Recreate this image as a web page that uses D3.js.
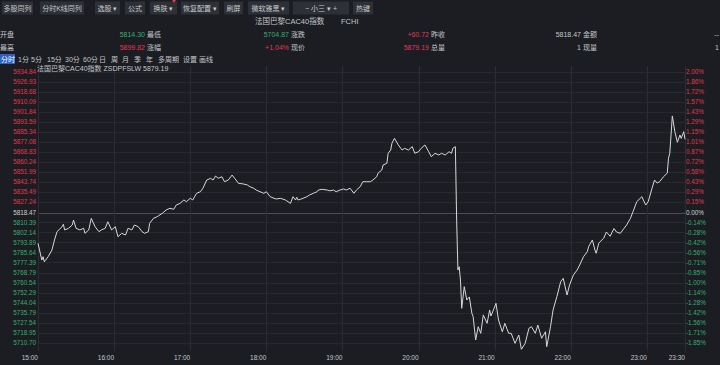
<!DOCTYPE html>
<html>
<head>
<meta charset="utf-8">
<script src="https://cdn.jsdelivr.net/npm/d3@7"></script>
<style>
body { margin: 0; background: #1b1d22; overflow: hidden; }
svg { display: block; font-family: "Liberation Sans", "Noto Sans CJK SC", sans-serif; }
</style>
</head>
<body>
<div id="chart"></div>
<script>
// ---- data ----
var toolbarLabels = ["多股同列", "分时K线同列", "选股 ▾", "公式", "换肤 ▾", "恢复配置 ▾", "刷屏", "微软雅黑 ▾", "−   小三 ▾   +", "热键"];
var indexName = "法国巴黎CAC40指数";
var indexCode = "FCHI";
var quoteRow1 = [["开盘", "5814.30"], ["最低", "5704.87"], ["涨跌", "+60.72"], ["昨收", "5818.47"], ["金额", "--"]];
var quoteRow2 = [["最高", "5899.82"], ["涨幅", "+1.04%"], ["现价", "5879.19"], ["总量", "1"], ["现量", "1"]];
var periodTabs = ["分时", "1分", "5分", "15分", "30分", "60分", "日", "周", "月", "季", "年", "多周期", "设置", "画线"];
var chartTitle = "法国巴黎CAC40指数 ZSDPFSLW 5879.19";
var prevClose = 5818.47;

var priceTicks = [5934.84, 5926.93, 5918.68, 5910.09, 5901.84, 5893.59, 5885.34, 5877.08, 5868.83, 5860.24,
  5851.99, 5843.74, 5835.49, 5827.24, 5818.47, 5810.39, 5802.14, 5793.89, 5785.64, 5777.39, 5768.79,
  5760.54, 5752.29, 5744.04, 5735.79, 5727.54, 5718.95, 5710.70];
var pctTicks = ["2.00%", "1.86%", "1.72%", "1.57%", "1.43%", "1.29%", "1.15%", "1.01%", "0.87%", "0.72%",
  "0.58%", "0.43%", "0.29%", "0.15%", "0.00%", "-0.14%", "-0.28%", "-0.42%", "-0.56%", "-0.71%", "-0.85%",
  "-1.00%", "-1.14%", "-1.28%", "-1.42%", "-1.56%", "-1.71%", "-1.85%"];
var timeTicks = ["15:00", "16:00", "17:00", "18:00", "19:00", "20:00", "21:00", "22:00", "23:00", "23:30"];

var times = ["15:00","15:03","15:04","15:05","15:08","15:11","15:13","15:15","15:19","15:20","15:21","15:24","15:27","15:28","15:30",
  "15:33","15:36","15:37","15:40","15:42","15:45","15:48","15:50","15:53","15:55","15:58","16:01","16:03","16:06","16:09",
  "16:11","16:14","16:16","16:19","16:22","16:24","16:27","16:28","16:31","16:34","16:38","16:41","16:44","16:47","16:49",
  "16:52","16:55","16:57","17:00","17:02","17:05","17:08","17:10","17:13","17:16","17:18","17:20","17:22","17:25","17:27",
  "17:30","17:33","17:35","17:38","17:42","17:45","17:47","17:50","17:52","17:55","17:58","18:00","18:03","18:06","18:08",
  "18:11","18:15","18:19","18:21","18:23","18:24","18:25","18:27","18:29","18:32","18:34","18:37","18:40","18:41","18:44",
  "18:48","18:50","18:53","18:55","18:58","19:01","19:03","19:06","19:09","19:11","19:14","19:16","19:19","19:22","19:24",
  "19:27","19:28","19:31","19:32","19:35","19:36","19:38","19:39","19:41","19:44","19:47","19:49","19:52","19:55","19:57",
  "20:00","20:02","20:05","20:08","20:10","20:13","20:16","20:18","20:21","20:24","20:26","20:27","20:29","20:30","20:31",
  "20:32","20:33","20:34","20:36","20:38","20:40","20:42","20:43","20:45","20:47","20:49","20:51","20:54","20:56","20:57",
  "20:59","21:01","21:03","21:06","21:08","21:11","21:13","21:16","21:19","21:21","21:24","21:27","21:29","21:32","21:34",
  "21:37","21:40","21:41","21:44","21:46","21:49","21:52","21:54","21:57","21:59","22:02","22:05","22:07","22:10","22:13",
  "22:14","22:17","22:19","22:20","22:22","22:23","22:26","22:28","22:31","22:34","22:36","22:39","22:41","22:44","22:47",
  "22:49","22:51","22:52","22:56","22:59","23:01","23:04","23:06","23:08","23:10","23:13","23:16","23:17","23:18","23:19",
  "23:20","23:22","23:24","23:26","23:27","23:29","23:30"];
var prices = [5793.2,5779.3,5782.1,5777.9,5782.1,5787.6,5795.9,5802.8,5806.9,5808.9,5804.2,5805.5,5808.3,5812.4,5805.6,
  5804.2,5805.6,5801.4,5804.2,5813.8,5806.9,5802.8,5804.2,5805.6,5811.0,5804.2,5806.9,5798.6,5801.4,5800.0,
  5805.6,5804.2,5808.3,5806.9,5802.8,5801.4,5802.8,5809.7,5813.8,5815.2,5818.0,5820.7,5822.1,5821.3,5824.8,
  5826.2,5829.0,5827.6,5830.4,5829.0,5834.5,5835.8,5838.7,5845.5,5846.9,5845.5,5848.8,5846.9,5848.2,5844.1,
  5845.5,5849.6,5846.9,5842.8,5842.2,5841.4,5840.0,5838.7,5837.2,5835.8,5834.5,5835.8,5831.7,5830.4,5829.8,
  5830.4,5829.0,5826.2,5831.7,5829.0,5831.2,5829.0,5829.6,5830.4,5831.7,5833.1,5834.5,5835.8,5837.2,5837.8,
  5837.2,5836.6,5837.2,5835.8,5837.2,5838.1,5837.2,5838.7,5834.5,5837.2,5840.0,5844.1,5844.1,5844.1,5845.5,
  5848.2,5851.1,5853.8,5857.9,5859.3,5867.6,5870.3,5875.9,5880.0,5874.5,5870.3,5871.7,5870.3,5873.1,5867.6,
  5868.9,5871.7,5874.5,5868.9,5864.8,5867.6,5866.2,5867.6,5866.2,5868.9,5867.6,5871.7,5873.1,5812.4,5771.1,
  5773.8,5762.8,5739.4,5757.3,5746.3,5748.8,5735.3,5732.5,5713.2,5724.2,5718.7,5733.9,5727.0,5738.0,5733.0,
  5738.0,5743.5,5729.7,5720.0,5727.0,5718.7,5718.7,5710.4,5717.3,5705.5,5710.4,5722.9,5724.2,5718.7,5725.6,
  5714.6,5720.0,5707.6,5724.2,5738.0,5749.0,5761.4,5764.2,5750.4,5758.7,5766.9,5771.1,5775.2,5782.1,5786.2,
  5790.4,5795.9,5787.6,5784.9,5793.1,5794.4,5797.5,5802.5,5799.0,5805.4,5802.5,5801.4,5804.2,5808.3,5813.8,
  5819.3,5824.8,5827.6,5831.7,5824.8,5827.6,5838.7,5845.5,5843.0,5844.1,5848.2,5851.1,5863.5,5867.6,5882.7,
  5898.5,5885.5,5876.7,5882.7,5879.9,5885.5,5879.19];

// ---- layout ----
var W = 720, H = 365;
var red = "#e0384f", green = "#34b06c", txt = "#c4c6ca";
var toolbarX = [2, 40, 95, 125, 150, 181, 224, 248, 293, 353];
var toolbarW = [31, 44, 25, 20, 27, 38, 19, 41, 56, 20];
var quoteLabelX = [0, 147, 291, 431, 583];
var quoteValueX = [145, 289, 429, 581, 719];
var tabX = [1, 18, 31, 47, 65, 83, 99, 111, 122, 134, 146, 158, 183, 199];

var svg = d3.select("#chart").append("svg")
  .attr("width", W).attr("height", H);

svg.append("rect").attr("width", W).attr("height", H).attr("fill", "#1b1d22");

// toolbar
var tb = svg.append("g");
tb.selectAll("rect").data(toolbarLabels).join("rect")
  .attr("x", function(d, i) { return toolbarX[i]; })
  .attr("y", 1.5).attr("width", function(d, i) { return toolbarW[i]; })
  .attr("height", 13).attr("fill", "#2d3037");
tb.selectAll("text").data(toolbarLabels).join("text")
  .attr("x", function(d, i) { return toolbarX[i] + toolbarW[i] / 2; })
  .attr("y", 10.5).attr("text-anchor", "middle")
  .attr("font-size", 7).attr("fill", "#c8c9cc")
  .text(function(d) { return d; });
tb.append("path").attr("d", "M172,0 L176,0 L174,3 Z").attr("fill", red);

// name row
svg.append("text").attr("x", 255).attr("y", 24).attr("font-size", 7.5).attr("fill", txt).text(indexName);
svg.append("text").attr("x", 341).attr("y", 24).attr("font-size", 7.5).attr("fill", txt).text(indexCode);

// quote rows
function quoteColor(label) {
  if (label == "最低" || label == "开盘") return green;
  if (label == "最高" || label == "涨幅" || label == "现价" || label == "涨跌") return red;
  return txt;
}
// value shown after label belongs to label before it (label left, value right)
[quoteRow1, quoteRow2].forEach(function(row, r) {
  var y = r == 0 ? 37 : 50;
  var g = svg.append("g");
  g.selectAll(".lab").data(row).join("text").attr("class", "lab")
    .attr("x", function(d, i) { return quoteLabelX[i]; }).attr("y", y)
    .attr("font-size", 7).attr("fill", txt).text(function(d) { return d[0]; });
  g.selectAll(".val").data(row).join("text").attr("class", "val")
    .attr("x", function(d, i) { return quoteValueX[i]; }).attr("y", y)
    .attr("text-anchor", "end").attr("font-size", 7)
    .attr("fill", function(d) { return quoteColor(d[0]); })
    .text(function(d) { return d[1]; });
});

// period tabs
svg.append("rect").attr("x", 0).attr("y", 54).attr("width", 15).attr("height", 10).attr("fill", "#2b62c4");
svg.append("g").selectAll("text").data(periodTabs).join("text")
  .attr("x", function(d, i) { return tabX[i]; }).attr("y", 62)
  .attr("font-size", 7).attr("fill", function(d, i) { return i == 0 ? "#ffffff" : txt; })
  .text(function(d) { return d; });

// ---- scales ----
var parseTime = d3.timeParse("%H:%M");
var x = d3.scaleTime()
  .domain([parseTime("15:00"), parseTime("23:30")])
  .range([38, 685]);
var y = d3.scaleLinear()
  .domain([priceTicks[priceTicks.length - 1], priceTicks[0]])
  .range([343, 72]);

var plot = svg.append("g");

// horizontal grid
plot.selectAll(".hg").data(priceTicks).join("line").attr("class", "hg")
  .attr("x1", 38).attr("x2", 685)
  .attr("y1", function(d) { return Math.round(y(d)) + 0.5; })
  .attr("y2", function(d) { return Math.round(y(d)) + 0.5; })
  .attr("stroke", function(d) { return d == prevClose ? "#4b4e56" : "#262930"; })
  .attr("stroke-width", 1);

// vertical grid
plot.selectAll(".vg").data(timeTicks).join("line").attr("class", "vg")
  .attr("x1", function(d) { return Math.round(x(parseTime(d))) + 0.5; })
  .attr("x2", function(d) { return Math.round(x(parseTime(d))) + 0.5; })
  .attr("y1", 66).attr("y2", 351)
  .attr("stroke", "#2a2d34");

// left price labels
plot.selectAll(".pl").data(priceTicks).join("text").attr("class", "pl")
  .attr("x", 36).attr("y", function(d) { return y(d) + 2.3; })
  .attr("text-anchor", "end").attr("font-size", 6.3)
  .attr("fill", function(d) { return d > prevClose ? red : d < prevClose ? green : "#d0d0d0"; })
  .text(function(d) { return d.toFixed(2); });

// right percent labels
plot.selectAll(".rl").data(pctTicks).join("text").attr("class", "rl")
  .attr("x", 686).attr("y", function(d, i) { return y(priceTicks[i]) + 2.3; })
  .attr("font-size", 6.3)
  .attr("fill", function(d, i) { return priceTicks[i] > prevClose ? red : priceTicks[i] < prevClose ? green : "#d0d0d0"; })
  .text(function(d) { return d; });

// time labels, right aligned at grid line
plot.selectAll(".tl").data(timeTicks).join("text").attr("class", "tl")
  .attr("x", function(d) { return x(parseTime(d)); }).attr("y", 360)
  .attr("text-anchor", "end").attr("font-size", 6.5).attr("fill", txt)
  .text(function(d) { return d; });

// title
svg.append("text").attr("x", 37).attr("y", 70.5).attr("font-size", 7).attr("fill", txt).text(chartTitle);

// price line
var line = d3.line()
  .x(function(d, i) { return x(parseTime(times[i])); })
  .y(function(d) { return y(d); });
plot.append("path").datum(prices)
  .attr("d", line)
  .attr("fill", "none")
  .attr("stroke", "#d6d7da")
  .attr("stroke-width", 1);
</script>
</body>
</html>
